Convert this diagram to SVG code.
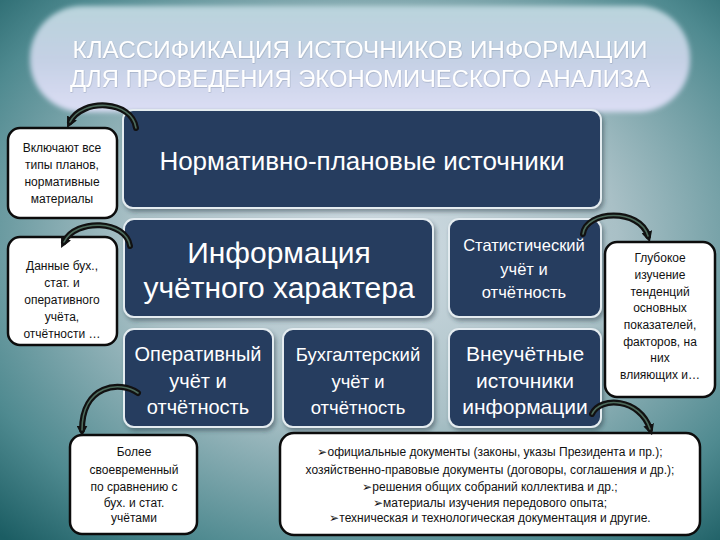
<svg xmlns="http://www.w3.org/2000/svg" width="720" height="540" viewBox="0 0 720 540">
<defs>
<radialGradient id="bg" cx="0.52" cy="0.45" r="0.75">
<stop offset="0" stop-color="#d2dde4"/>
<stop offset="0.45" stop-color="#a9c0c6"/>
<stop offset="0.8" stop-color="#4f8a90"/>
<stop offset="1" stop-color="#1b5d63"/>
</radialGradient>
<linearGradient id="pill" x1="0" y1="0" x2="0" y2="1">
<stop offset="0" stop-color="#b9d4dc"/>
<stop offset="0.5" stop-color="#c4d0e4"/>
<stop offset="1" stop-color="#dcdef5"/>
</linearGradient>
<filter id="soft" x="-5%" y="-10%" width="110%" height="120%"><feGaussianBlur stdDeviation="2.5"/></filter>
<filter id="ts" x="-5%" y="-20%" width="110%" height="140%"><feDropShadow dx="0.4" dy="0.6" stdDeviation="0.6" flood-color="#6a7a90" flood-opacity="0.5"/></filter>
<filter id="shadow" x="-5%" y="-5%" width="115%" height="120%"><feDropShadow dx="2" dy="3" stdDeviation="2" flood-color="#203040" flood-opacity="0.45"/></filter>
<marker id="ah" viewBox="0 0 10 10" refX="4" refY="5" markerWidth="11" markerHeight="11" markerUnits="userSpaceOnUse" orient="auto">
<path d="M0,0 L10,5 L0,10 z" fill="#111"/>
</marker>
<style>
.nb{fill:#253d5f;stroke:#e4ecf0;stroke-width:2;filter:url(#shadow)}
.nt{fill:#ffffff;font-family:"Liberation Sans",Arial,sans-serif;text-anchor:middle}
.cb{fill:#ffffff;stroke:#0c0c0c;stroke-width:2.5}
.ct{fill:#111;font-family:"Liberation Sans",Arial,sans-serif;text-anchor:middle;font-size:12px}
.ao{fill:none;stroke:#111;stroke-width:6;stroke-linecap:round}
.ai{fill:none;stroke:#4d6b5c;stroke-width:1.6;stroke-linecap:round}
.tt{fill:#ffffff;font-family:"Liberation Sans",Arial,sans-serif;text-anchor:middle;font-size:23px;filter:url(#ts)}
</style>
</defs>
<rect width="720" height="540" fill="url(#bg)"/>
<g id="title">
<rect x="30" y="6" width="660" height="106" rx="52" fill="url(#pill)" filter="url(#soft)"/>
<text class="tt" x="360" y="58" textLength="575" lengthAdjust="spacingAndGlyphs">КЛАССИФИКАЦИЯ ИСТОЧНИКОВ ИНФОРМАЦИИ</text>
<text class="tt" x="360" y="87" textLength="580" lengthAdjust="spacingAndGlyphs">ДЛЯ ПРОВЕДЕНИЯ ЭКОНОМИЧЕСКОГО АНАЛИЗА</text>
</g>
<g id="n-normative">
<rect class="nb" x="123" y="110" width="478" height="98" rx="10"/>
<text class="nt" x="362" y="170" font-size="26">Нормативно-плановые источники</text>
</g>
<g id="n-info">
<rect class="nb" x="124" y="219" width="309" height="98" rx="10"/>
<text class="nt" x="279" y="263" font-size="30">Информация</text>
<text class="nt" x="279" y="298" font-size="30">учётного характера</text>
</g>
<g id="n-stat">
<rect class="nb" x="449" y="219" width="152" height="98" rx="10"/>
<text class="nt" x="524" y="251" font-size="16.5">Статистический</text>
<text class="nt" x="524" y="275" font-size="16.5">учёт и</text>
<text class="nt" x="524" y="298" font-size="16.5">отчётность</text>
</g>
<g id="n-oper">
<rect class="nb" x="124" y="329" width="149" height="98" rx="10"/>
<text class="nt" x="198" y="361" font-size="20">Оперативный</text>
<text class="nt" x="198" y="388" font-size="20">учёт и</text>
<text class="nt" x="198" y="414" font-size="20">отчётность</text>
</g>
<g id="n-buh">
<rect class="nb" x="283" y="329" width="150" height="98" rx="10"/>
<text class="nt" x="358" y="361" font-size="18.5">Бухгалтерский</text>
<text class="nt" x="358" y="388" font-size="18.5">учёт и</text>
<text class="nt" x="358" y="414" font-size="18.5">отчётность</text>
</g>
<g id="n-vne">
<rect class="nb" x="449" y="329" width="152" height="98" rx="10"/>
<text class="nt" x="525" y="361" font-size="21">Внеучётные</text>
<text class="nt" x="525" y="388" font-size="21">источники</text>
<text class="nt" x="525" y="414" font-size="21">информации</text>
</g>
<g id="c-plans">
<rect class="cb" x="8" y="128" width="109" height="90" rx="12"/>
<text class="ct" x="62" y="152">Включают все</text>
<text class="ct" x="62" y="169">типы планов,</text>
<text class="ct" x="62" y="186">нормативные</text>
<text class="ct" x="62" y="203">материалы</text>
</g>
<g id="c-data">
<rect class="cb" x="8" y="237" width="109" height="108" rx="12"/>
<text class="ct" x="62" y="270">Данные бух.,</text>
<text class="ct" x="62" y="287">стат. и</text>
<text class="ct" x="62" y="304">оперативного</text>
<text class="ct" x="62" y="321">учёта,</text>
<text class="ct" x="62" y="338">отчётности …</text>
</g>
<g id="c-deep">
<rect class="cb" x="605" y="242" width="110" height="155" rx="12"/>
<text class="ct" x="660" y="262">Глубокое</text>
<text class="ct" x="660" y="279">изучение</text>
<text class="ct" x="660" y="296">тенденций</text>
<text class="ct" x="660" y="312">основных</text>
<text class="ct" x="660" y="329">показателей,</text>
<text class="ct" x="660" y="346">факторов, на</text>
<text class="ct" x="660" y="362">них</text>
<text class="ct" x="660" y="379">влияющих и…</text>
</g>
<g id="c-timely">
<rect class="cb" x="70" y="435" width="127" height="99" rx="12"/>
<text class="ct" x="134" y="456" font-size="12.5">Более</text>
<text class="ct" x="134" y="474" font-size="12.5">своевременный</text>
<text class="ct" x="134" y="491" font-size="12.5">по сравнению с</text>
<text class="ct" x="134" y="507" font-size="12.5">бух. и стат.</text>
<text class="ct" x="134" y="522" font-size="12.5">учётами</text>
</g>
<g id="c-docs">
<rect class="cb" x="280" y="433" width="420" height="102" rx="14"/>
<text class="ct" x="490" y="456" font-size="12.8">➢официальные документы (законы, указы Президента и пр.);</text>
<text class="ct" x="490" y="474" font-size="12.8">хозяйственно-правовые документы (договоры, соглашения и др.);</text>
<text class="ct" x="490" y="491" font-size="12.8">➢решения общих собраний коллектива и др.;</text>
<text class="ct" x="490" y="507" font-size="12.8">➢материалы изучения передового опыта;</text>
<text class="ct" x="490" y="522" font-size="12.8">➢техническая и технологическая документация и другие.</text>
</g>
<g id="connectors">
<path class="ao" d="M136,128 C132,100 82,98 70,122" marker-end="url(#ah)"/>
<path class="ai" d="M136,128 C132,100 82,98 70,122"/>
<path class="ao" d="M130,246 C126,220 76,218 64,242" marker-end="url(#ah)"/>
<path class="ai" d="M130,246 C126,220 76,218 64,242"/>
<path class="ao" d="M138,393 C120,380 82,385 82,430" marker-end="url(#ah)"/>
<path class="ai" d="M138,393 C120,380 82,385 82,430"/>
<path class="ao" d="M583,234 C586,210 640,208 648,236" marker-end="url(#ah)"/>
<path class="ai" d="M583,234 C586,210 640,208 648,236"/>
<path class="ao" d="M592,414 C600,396 640,398 650,429" marker-end="url(#ah)"/>
<path class="ai" d="M592,414 C600,396 640,398 650,429"/>
</g>
</svg>
